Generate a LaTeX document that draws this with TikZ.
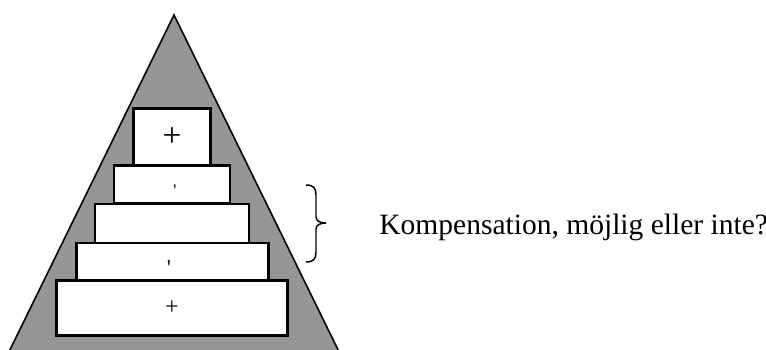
\documentclass[tikz,border=0pt]{standalone}
\usepackage{fontspec}
\setmainfont{Liberation Serif}
\usepackage{tikz}
\usepackage{xcolor}
\usetikzlibrary{positioning, calc}

\definecolor{pyrgray}{RGB}{150,150,150}

\begin{document}
\begin{tikzpicture}[
    tier/.style={draw, fill=white, line width=1.3pt, inner sep=0pt, anchor=center},
    tickmark/.style={inner sep=0pt, font=\fontsize{10}{10}\selectfont}
]
    \useasboundingbox (0,0) rectangle (15.32,6.98);
    \clip (0,0) rectangle (15.32,6.98);

    % Define the shapes
    % A - Triangle (base runs off the bottom edge)
    \coordinate (A1) at (0.06,-0.30);
    \coordinate (A2) at (3.48,6.68);
    \coordinate (A3) at (6.90,-0.30);

    % Draw the triangle
    \fill[pyrgray] (A1) -- (A2) -- (A3) -- cycle;
    \draw[line width=0.9pt, line join=miter] (A1) -- (A2) -- (A3);

    % B - The five tiers, top to bottom
    \node[tier, minimum width=1.54cm, minimum height=1.14cm,
          font=\fontsize{19}{19}\selectfont] (t1) at (3.44,4.24) {+};
    \node[tier, minimum width=2.31cm, minimum height=0.76cm] (t2) at (3.44,3.29) {};
    \node[tier, minimum width=3.07cm, minimum height=0.78cm] (t3) at (3.44,2.51) {};
    \node[tier, minimum width=3.84cm, minimum height=0.75cm] (t4) at (3.45,1.745) {};
    \node[tier, minimum width=4.62cm, minimum height=1.10cm,
          font=\fontsize{13.7}{13.7}\selectfont] (t5) at (3.44,0.82) {+};

    % Small marks in the second and fourth tier
    \node[tickmark] (m2) at ($(t2.center)+(0.06,-0.12)$) {\textquotesingle};
    \node[tickmark, font=\fontsize{13}{13}\selectfont] (m4) at ($(t4.center)+(-0.07,-0.12)$) {\textquotesingle};

    % C - Brace beside the middle tiers
    \coordinate (Ctop) at (6.12,3.28);
    \coordinate (Ctip) at (6.52,2.52);
    \coordinate (Cbot) at (6.12,1.74);
    \draw[line width=0.85pt] (Ctop) .. controls (6.27,3.28) and (6.32,3.22) .. (6.32,3.08)
        -- (6.32,2.64) .. controls (6.32,2.56) and (6.40,2.52) .. (Ctip)
        .. controls (6.40,2.52) and (6.32,2.48) .. (6.32,2.40)
        -- (6.32,1.94) .. controls (6.32,1.80) and (6.27,1.74) .. (Cbot);

    % D - The question
    \node[anchor=base west, inner sep=0pt, font=\fontsize{16.8}{20}\selectfont]
        (question) at (7.58,2.29) {Kompensation, möjlig eller inte?};
\end{tikzpicture}
\end{document}
